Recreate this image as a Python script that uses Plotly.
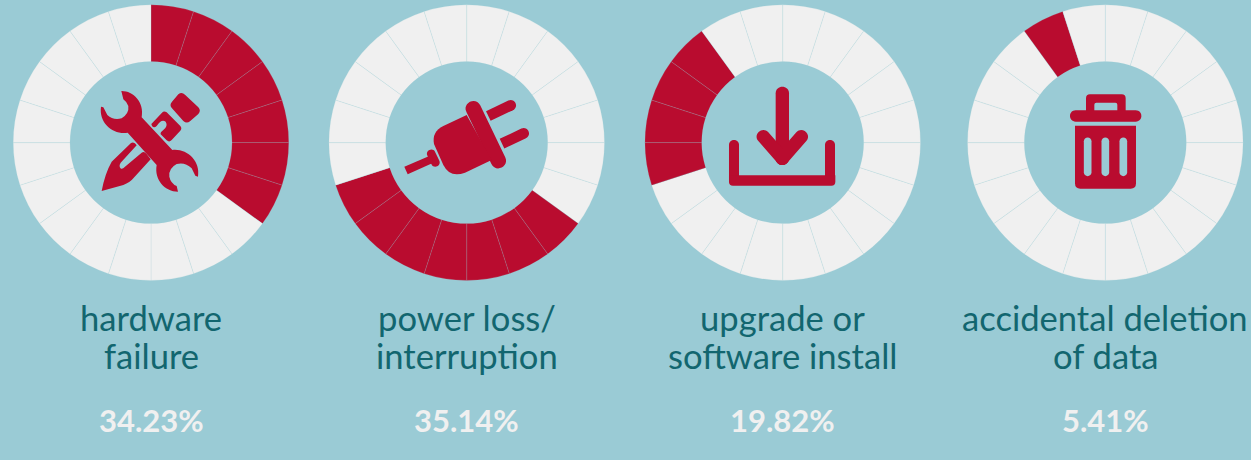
import re
import plotly.graph_objects as go

# ---- data -------------------------------------------------------------
label_lines = [["hardware", "failure"], ["power loss/", "interruption"],
               ["upgrade or", "software install"], ["accidental deletion", "of data"]]
percent_labels = ["34.23%", "35.14%", "19.82%", "5.41%"]
filled_units = [7, 7, 4, 1]        # red slices out of 20
start_units = [0, 7, 14, 18]       # first red slice, clockwise from 12 o'clock
total_units = 20

# ---- style / layout ----------------------------------------------------
W, H = 1251, 460
BG, RED, LIGHT, TEAL = "#9acbd5", "#b90c2f", "#f0f0f0", "#12666f"
centers_x = [151, 466.7, 782.7, 1105.3]
center_y, radius = 142.6, 137.8
hole = 81 / 137.8
FONT = "Lato"


def tr(path, ox):
    """Convert an absolute path written in 3x zoom pixels to paper coordinates."""
    out, is_x = [], True
    for tok in re.findall(r"[MLQCZ]|-?\d+\.?\d*", path):
        if tok.isalpha():
            out.append(tok)
        else:
            v = float(tok) / 3
            out.append(f"{(ox + v) / W:.5f}" if is_x else f"{1 - v / H:.5f}")
            is_x = not is_x
    return " ".join(out)


def capsule(x1, y1, x2, y2, w, flat_start=False):
    dx, dy = x2 - x1, y2 - y1
    n = (dx * dx + dy * dy) ** 0.5
    ux, uy = dx / n, dy / n
    px, py = -uy * w / 2, ux * w / 2
    h = 4 / 3 * w / 2
    a, b = (x1 + px, y1 + py), (x1 - px, y1 - py)
    c, d = (x2 - px, y2 - py), (x2 + px, y2 + py)
    s = f"M {a[0]:.1f} {a[1]:.1f} "
    if flat_start:
        s += f"L {b[0]:.1f} {b[1]:.1f} "
    else:
        s += (f"C {a[0]-ux*h:.1f} {a[1]-uy*h:.1f} {b[0]-ux*h:.1f} {b[1]-uy*h:.1f} "
              f"{b[0]:.1f} {b[1]:.1f} ")
    s += f"L {c[0]:.1f} {c[1]:.1f} "
    s += (f"C {c[0]+ux*h:.1f} {c[1]+uy*h:.1f} {d[0]+ux*h:.1f} {d[1]+uy*h:.1f} "
          f"{d[0]:.1f} {d[1]:.1f} Z")
    return s


wrench = ("M 364 273 C 398 272 434 305 425 352 L 517 450 C 560 445 602 482 594 530 L 586 527 L 575 505 "
          "Q 555 485 530 492 Q 505 505 508 530 Q 512 550 530 558 L 534 575 C 495 575 462 540 470 495 "
          "L 383 398 C 340 405 296 370 303 320 L 310 322 L 322 345 Q 340 362 365 355 Q 388 340 385 318 "
          "Q 380 305 370 298 Z")
pencil = ("M 305 573 Q 315 520 335 485 L 393 429 Q 403 424 410 436 L 362 488 Q 355 498 363 506 "
          "Q 368 508 375 500 L 425 458 Q 432 452 440 462 L 452 478 L 400 535 Q 390 548 370 555 Z")
pencil_mid = ("M 486 338 Q 492 331 500 337 L 541 378 Q 547 385 541 392 L 515 420 Q 508 428 500 421 "
              "L 482 403 Q 480 397 490 390 Q 505 378 497 365 Q 485 355 470 378 Q 462 385 456 378 "
              "L 454 372 Z")
eraser = ("M 535 283 Q 545 275 555 284 L 595 322 Q 604 332 595 342 L 570 364 Q 560 372 550 363 "
          "L 516 325 Q 507 315 516 305 Z")
icon_tools = [wrench, pencil, pencil_mid, eraser]

icon_plug = [
    capsule(460, 326, 535, 482, 46),
    "M 440 345 L 370 378 Q 335 395 342 432 L 370 495 Q 390 535 435 518 L 515 480 Z",
    capsule(334, 462, 346, 487, 26),
    "M 253 500 L 335 465 L 340 488 L 263 523 Z",
    capsule(505, 348, 572, 316, 32, True),
    capsule(546, 431, 611, 400, 32, True),
]

icon_download = [
    capsule(442, 280, 442, 475, 40),
    capsule(385, 410, 442, 475, 40),
    capsule(499, 410, 442, 475, 40),
    capsule(297, 435, 297, 540, 30),
    capsule(585, 435, 585, 540, 30),
    "M 282 526 L 601 526 L 601 545 Q 601 557 589 557 L 294 557 Q 282 557 282 545 Z",
]

icon_trash = [
    "M 378 335 L 378 295 Q 378 283 390 283 L 485 283 Q 497 283 497 295 L 497 335 L 472 335 "
    "L 472 314 Q 472 308 466 308 L 409 308 Q 403 308 403 314 L 403 335 Z",
    capsule(347, 348, 527, 348, 34),
    "M 345 377 L 528 377 L 528 550 Q 528 566 512 566 L 361 566 Q 345 566 345 550 Z",
]
trash_slots = [capsule(x, 424, x, 517, 23) for x in (383, 436, 490)]

icon_offsets = [(0, icon_tools), (320, icon_plug), (635, icon_download), (960, icon_trash)]

# ---- figure ------------------------------------------------------------
fig = go.Figure()
for i in range(4):
    colors = [RED if start_units[i] <= k < start_units[i] + filled_units[i] else LIGHT
              for k in range(total_units)]
    cx = centers_x[i]
    fig.add_trace(go.Pie(
        values=[1] * total_units,
        sort=False, direction="clockwise", rotation=0, hole=hole,
        textinfo="none", hoverinfo="skip", showlegend=False,
        marker=dict(colors=colors, line=dict(color="rgba(154,203,213,0.3)", width=0.6)),
        domain=dict(x=[(cx - radius) / W, (cx + radius) / W],
                    y=[1 - (center_y + radius) / H, 1 - (center_y - radius) / H]),
    ))

shapes = []
for ox, parts in icon_offsets:
    for p in parts:
        shapes.append(dict(type="path", path=tr(p, ox), xref="paper", yref="paper",
                           fillcolor=RED, line=dict(width=0), layer="above"))
for p in trash_slots:
    shapes.append(dict(type="path", path=tr(p, 960), xref="paper", yref="paper",
                       fillcolor=BG, line=dict(width=0), layer="above"))

annotations = []
for i in range(4):
    for j, line in enumerate(label_lines[i]):
        annotations.append(dict(
            text=line, x=centers_x[i] / W, y=1 - (317 + 38 * j) / H, xref="paper", yref="paper",
            xanchor="center", yanchor="middle", showarrow=False,
            font=dict(family=FONT, size=34.6, color=TEAL)))
    annotations.append(dict(
        text=percent_labels[i], x=centers_x[i] / W, y=1 - 420 / H, xref="paper", yref="paper",
        xanchor="center", yanchor="middle", showarrow=False,
        font=dict(family=FONT, size=31, color=LIGHT, weight=700)))

fig.update_layout(width=W, height=H, margin=dict(l=0, r=0, t=0, b=0),
                  paper_bgcolor=BG, plot_bgcolor=BG, shapes=shapes, annotations=annotations)

fig.write_html("out.html", config={"displayModeBar": False},
               post_script="document.body.style.margin='0';document.body.style.background='%s';"
                           "document.body.style.overflow='hidden';"
                           "var s=document.createElement('style');"
                           "s.textContent='text{font-variant-ligatures:none}';"
                           "document.head.appendChild(s);" % BG)
